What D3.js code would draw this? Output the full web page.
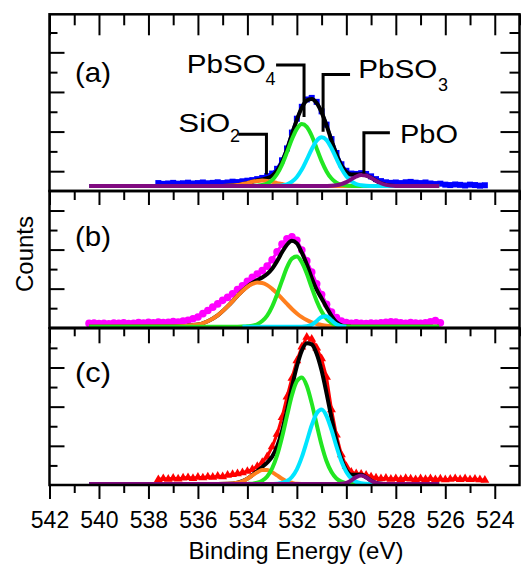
<!DOCTYPE html>
<html>
<head>
<meta charset="utf-8">
<script src="https://cdn.jsdelivr.net/npm/d3@7"></script>
<style>
    body { margin: 0; background: #fff; }
    text { font-family: "Liberation Sans", Arial, Helvetica, sans-serif; fill: #000; }
</style>
</head>
<body>
<div id="chart"></div>
<script>
// binding energy ticks (eV)
const energyLabels = [542, 540, 538, 536, 534, 532, 530, 528, 526, 524];
const energyMinor = [541, 539, 537, 535, 533, 531, 529, 527, 525, 523];

// counts ticks of each panel (arbitrary units)
const aMajor = [1, 3, 5, 7], aMinor = [2, 4, 6, 8];
const bMajor = [2, 4, 6], bMinor = [1, 3, 5];
const cMajor = [2, 4, 6], cMinor = [1, 3, 5, 7];

// energies of the fitted curves
const fitEnergy = [540.4, 537, 536, 535.6, 535.2, 534.8, 534.4, 534.2, 534.0, 533.8, 533.6, 533.4,
    533.2, 533.0, 532.8, 532.6, 532.4, 532.2, 532.0, 531.8, 531.6, 531.4, 531.2, 531.0, 530.8, 530.6,
    530.4, 530.2, 530.0, 529.8, 529.6, 529.4, 529.2, 529.0, 528.8, 528.6, 528.4, 528.0, 527.6, 527.0, 526.25];

// (a) measured counts, from 537.6 eV in 0.2 eV steps
const aStart = 537.6;
const aCounts = [0.40, 0.36, 0.38, 0.41, 0.37, 0.39, 0.42, 0.38, 0.40, 0.43, 0.39, 0.41, 0.44, 0.40,
    0.43, 0.47, 0.45, 0.49, 0.52, 0.55, 0.60, 0.66, 0.75, 0.88, 1.12, 1.55, 2.15, 2.95, 3.65, 4.25,
    4.62, 4.70, 4.50, 4.02, 3.35, 2.62, 1.92, 1.35, 1.02, 0.88, 0.86, 0.90, 0.86, 0.74, 0.60, 0.50,
    0.44, 0.41, 0.43, 0.40, 0.44, 0.46, 0.42, 0.40, 0.43, 0.38, 0.35, 0.37, 0.32, 0.30, 0.33, 0.31,
    0.28, 0.32, 0.30, 0.27, 0.29];
const aEnvelope = [0.25, 0.25, 0.25, 0.25, 0.25, 0.26, 0.30, 0.35, 0.40, 0.47, 0.53, 0.58, 0.65, 0.77,
    1.03, 1.47, 2.10, 2.86, 3.60, 4.21, 4.57, 4.65, 4.44, 3.97, 3.31, 2.56, 1.85, 1.29, 0.96, 0.835,
    0.83, 0.845, 0.79, 0.67, 0.52, 0.39, 0.31, 0.256, 0.25, 0.25, 0.25];
const aSiO2 = [0.25, 0.25, 0.25, 0.25, 0.25, 0.26, 0.30, 0.35, 0.40, 0.465, 0.51, 0.53, 0.51, 0.465,
    0.40, 0.35, 0.30, 0.276, 0.26, 0.253, 0.25, 0.25, 0.25, 0.25, 0.25, 0.25, 0.25, 0.25, 0.25, 0.25,
    0.25, 0.25, 0.25, 0.25, 0.25, 0.25, 0.25, 0.25, 0.25, 0.25, 0.25];
const aPbSO4 = [0.25, 0.25, 0.25, 0.25, 0.25, 0.25, 0.25, 0.25, 0.25, 0.255, 0.27, 0.30, 0.38, 0.55,
    0.86, 1.33, 1.95, 2.61, 3.14, 3.38, 3.24, 2.79, 2.15, 1.51, 0.99, 0.63, 0.42, 0.32, 0.275, 0.258,
    0.252, 0.25, 0.25, 0.25, 0.25, 0.25, 0.25, 0.25, 0.25, 0.25, 0.25];
const aPbSO3 = [0.25, 0.25, 0.25, 0.25, 0.25, 0.25, 0.25, 0.25, 0.25, 0.25, 0.25, 0.25, 0.25, 0.253,
    0.26, 0.284, 0.34, 0.47, 0.71, 1.08, 1.58, 2.11, 2.54, 2.71, 2.57, 2.16, 1.63, 1.13, 0.74, 0.49,
    0.35, 0.29, 0.26, 0.254, 0.251, 0.25, 0.25, 0.25, 0.25, 0.25, 0.25];
const aPbO = [0.25, 0.25, 0.25, 0.25, 0.25, 0.25, 0.25, 0.25, 0.25, 0.25, 0.25, 0.25, 0.25, 0.25,
    0.25, 0.25, 0.25, 0.25, 0.25, 0.25, 0.25, 0.25, 0.25, 0.25, 0.253, 0.262, 0.287, 0.344, 0.447, 0.59,
    0.73, 0.807, 0.78, 0.664, 0.515, 0.39, 0.31, 0.256, 0.25, 0.25, 0.25];

// (b) measured counts, from 540.4 eV in 0.2 eV steps
const bStart = 540.4;
const bCounts = [0.22, 0.24, 0.21, 0.23, 0.20, 0.24, 0.22, 0.25, 0.21, 0.23, 0.26, 0.24, 0.27, 0.25,
    0.29, 0.26, 0.28, 0.31, 0.29, 0.34, 0.38, 0.46, 0.55, 0.72, 0.88, 1.05, 1.22, 1.40, 1.55, 1.73,
    1.95, 2.15, 2.38, 2.58, 2.75, 2.92, 3.15, 3.48, 3.88, 4.28, 4.55, 4.65, 4.48, 3.98, 3.42, 2.85,
    2.25, 1.70, 1.20, 0.80, 0.52, 0.34, 0.26, 0.22, 0.25, 0.23, 0.21, 0.24, 0.22, 0.25, 0.27, 0.30,
    0.29, 0.25, 0.23, 0.26, 0.24, 0.22, 0.25, 0.30, 0.36, 0.25];
const bEnvelope = [0.05, 0.056, 0.16, 0.33, 0.63, 1.09, 1.63, 1.89, 2.11, 2.29, 2.44, 2.57, 2.75, 3.02,
    3.41, 3.86, 4.25, 4.45, 4.32, 3.84, 3.25, 2.55, 1.95, 1.50, 1.04, 0.61, 0.28, 0.12, 0.07, 0.055,
    0.05, 0.05, 0.05, 0.05, 0.05, 0.05, 0.05, 0.05, 0.05, 0.05, 0.05];
const bSiO2 = [0.05, 0.056, 0.16, 0.33, 0.63, 1.09, 1.63, 1.88, 2.09, 2.24, 2.31, 2.29, 2.18, 1.99,
    1.76, 1.49, 1.22, 0.96, 0.73, 0.54, 0.39, 0.27, 0.19, 0.14, 0.10, 0.08, 0.066, 0.058, 0.053, 0.05,
    0.05, 0.05, 0.05, 0.05, 0.05, 0.05, 0.05, 0.05, 0.05, 0.05, 0.05];
const bPbSO4 = [0.05, 0.05, 0.05, 0.05, 0.05, 0.05, 0.05, 0.056, 0.07, 0.10, 0.18, 0.34, 0.62, 1.08,
    1.70, 2.41, 3.09, 3.54, 3.64, 3.35, 2.77, 2.05, 1.37, 0.83, 0.46, 0.24, 0.13, 0.08, 0.06, 0.053,
    0.05, 0.05, 0.05, 0.05, 0.05, 0.05, 0.05, 0.05, 0.05, 0.05, 0.05];
const bPbSO3 = [null, null, null, null, null, null, null, 0.05, 0.05, 0.05, 0.05, 0.05, 0.05, 0.05,
    0.05, 0.05, 0.05, 0.05, 0.05, 0.05, 0.07, 0.15, 0.34, 0.55, 0.58, 0.38, 0.18, 0.08, 0.055, null,
    null, null, null, null, null, null, null, null, null, null, null];

// (c) measured counts, from 537.6 eV in 0.2 eV steps
const cStart = 537.6;
const cCounts = [0.28, 0.33, 0.30, 0.35, 0.31, 0.36, 0.38, 0.34, 0.40, 0.37, 0.42, 0.40, 0.45, 0.43,
    0.50, 0.54, 0.58, 0.63, 0.70, 0.80, 0.95, 1.15, 1.45, 1.95, 2.60, 3.45, 4.50, 5.45, 6.35, 7.05,
    7.55, 7.45, 7.00, 6.45, 5.50, 3.85, 2.55, 1.55, 0.95, 0.66, 0.58, 0.56, 0.50, 0.42, 0.36, 0.32,
    0.35, 0.30, 0.33, 0.29, 0.34, 0.31, 0.28, 0.32, 0.29, 0.33, 0.28, 0.31, 0.27, 0.30, 0.33, 0.29,
    0.32, 0.28, 0.30, 0.27, 0.25];
const cEnvelope = [0.05, 0.05, 0.05, 0.05, 0.05, 0.058, 0.115, 0.195, 0.327, 0.51, 0.715, 0.924, 1.145,
    1.45, 1.965, 2.76, 3.82, 5.0, 6.06, 6.86, 7.24, 7.18, 6.70, 5.84, 4.68, 3.42, 2.25, 1.34, 0.765,
    0.53, 0.52, 0.52, 0.40, 0.22, 0.104, 0.061, 0.05, 0.05, 0.05, 0.05, 0.05];
const cSiO2 = [0.05, 0.05, 0.05, 0.05, 0.05, 0.058, 0.114, 0.19, 0.32, 0.49, 0.65, 0.76, 0.76, 0.65,
    0.49, 0.32, 0.19, 0.114, 0.058, 0.05, 0.05, 0.05, 0.05, 0.05, 0.05, 0.05, 0.05, 0.05, 0.05, 0.05,
    0.05, 0.05, 0.05, 0.05, 0.05, 0.05, 0.05, 0.05, 0.05, 0.05, 0.05];
const cPbSO4 = [0.05, 0.05, 0.05, 0.05, 0.05, 0.05, 0.05, 0.05, 0.057, 0.07, 0.115, 0.22, 0.44, 0.85,
    1.51, 2.44, 3.53, 4.58, 5.30, 5.49, 5.07, 4.18, 3.09, 2.04, 1.21, 0.66, 0.33, 0.17, 0.09, 0.064,
    0.054, 0.05, 0.05, 0.05, 0.05, 0.05, 0.05, 0.05, 0.05, 0.05, 0.05];
const cPbSO3 = [0.05, 0.05, 0.05, 0.05, 0.05, 0.05, 0.05, 0.05, 0.05, 0.05, 0.05, 0.05, 0.05, 0.055,
    0.067, 0.104, 0.20, 0.41, 0.80, 1.42, 2.22, 3.05, 3.66, 3.85, 3.52, 2.81, 1.97, 1.21, 0.66, 0.33,
    0.16, 0.089, 0.062, 0.053, 0.05, 0.05, 0.05, 0.05, 0.05, 0.05, 0.05];
const cPbO = [0.05, 0.05, 0.05, 0.05, 0.05, 0.05, 0.05, 0.05, 0.05, 0.05, 0.05, 0.05, 0.05, 0.05,
    0.05, 0.05, 0.05, 0.05, 0.05, 0.05, 0.05, 0.05, 0.05, 0.05, 0.05, 0.05, 0.052, 0.063, 0.11, 0.235,
    0.40, 0.48, 0.39, 0.22, 0.104, 0.061, 0.05, 0.05, 0.05, 0.05, 0.05];

// peak labels of panel (a): text anchor, subscript anchor, leader line [E, counts]
const peakNames = ["PbSO", "PbSO", "SiO", "PbO"];
const peakSubs = ["4", "3", "2", ""];
const peakText = [[536.45, 5.94], [529.52, 5.69], [536.79, 2.99], [527.83, 2.44]];
const peakSub = [[533.27, 5.33], [526.29, 5.05], [534.70, 2.47], null];
const peakLeader = [
    [[532.84, 6.36], [531.71, 6.36], [531.71, 3.74]],
    [[529.85, 5.88], [530.94, 5.88], [530.94, 2.99]],
    [[534.37, 2.86], [533.23, 2.86], [533.23, 0.83]],
    [[528.24, 2.94], [529.29, 2.94], [529.29, 0.88]]
];

const dataStep = 0.2;
const colors = { env: "#000000", SiO2: "#ff7f1e", PbSO4: "#22e622", PbSO3: "#00e5ff", PbO: "#800a80" };

let width = 522, height = 564;
let left = 49.5, right = 519.5;

let svg = d3.select("#chart")
    .append("svg")
    .attr("width", width)
    .attr("height", height);

let x = d3.scaleLinear()
    .domain([542, 523])
    .range([left, right]);

let panels = [
    { label: "(a)", labelAt: [540.97, 5.5], top: 14.3, bottom: 191, yMax: 8.92, major: aMajor, minor: aMinor,
      topTicks: [21, 11], start: aStart, counts: aCounts, color: "#0000ff", symbol: d3.symbolSquare, size: 36,
      fits: [["env", aEnvelope], ["SiO2", aSiO2], ["PbSO4", aPbSO4], ["PbSO3", aPbSO3], ["PbO", aPbO]] },
    { label: "(b)", labelAt: [540.97, 4.19], top: 191, bottom: 327.7, yMax: 7, major: bMajor, minor: bMinor,
      topTicks: [14, 9], start: bStart, counts: bCounts, color: "#ff00ff", symbol: d3.symbolCircle, size: 46,
      fits: [["env", bEnvelope], ["SiO2", bSiO2], ["PbSO4", bPbSO4], ["PbSO3", bPbSO3]] },
    { label: "(c)", labelAt: [540.97, 5.26], top: 328.3, bottom: 485, yMax: 8, major: cMajor, minor: cMinor,
      topTicks: [15, 8], start: cStart, counts: cCounts, color: "#ff0000", symbol: d3.symbolTriangle, size: 34,
      fits: [["env", cEnvelope], ["SiO2", cSiO2], ["PbSO4", cPbSO4], ["PbSO3", cPbSO3], ["PbO", cPbO]] }
];

function styleAxis(g) {
    g.select(".domain").remove();
    g.selectAll(".tick line").attr("stroke", "#000").attr("stroke-width", 2);
}

panels.forEach(function (p, k) {
    let y = d3.scaleLinear()
        .domain([0, p.yMax])
        .range([p.bottom, p.top]);

    let g = svg.append("g");

    let line = d3.line()
        .defined(d => d[1] != null)
        .x(d => x(d[0]))
        .y(d => y(d[1]));

    // measured points
    let pts = p.counts.map((v, i) => [p.start - i * dataStep, v]);
    g.append("path")
        .attr("d", line(pts))
        .attr("fill", "none")
        .attr("stroke", p.color)
        .attr("stroke-width", 3);
    g.selectAll(".pt")
        .data(pts)
        .join("path")
        .attr("class", "pt")
        .attr("transform", d => `translate(${x(d[0])},${y(d[1])})`)
        .attr("d", d3.symbol().type(p.symbol).size(p.size))
        .attr("fill", p.color);

    // fitted envelope and components
    let smooth = line.curve(d3.curveMonotoneX);
    p.fits.forEach(function (f) {
        g.append("path")
            .attr("d", smooth(fitEnergy.map((e, i) => [e, f[1][i]])))
            .attr("fill", "none")
            .attr("stroke", colors[f[0]])
            .attr("stroke-width", 4)
            .attr("stroke-linejoin", "round");
    });

    // frame
    g.append("rect")
        .attr("x", left)
        .attr("y", p.top)
        .attr("width", right - left)
        .attr("height", p.bottom - p.top)
        .attr("fill", "none")
        .attr("stroke", "#000")
        .attr("stroke-width", 2.5);

    // ticks along the top edge
    g.append("g").attr("transform", `translate(0,${p.top})`)
        .call(d3.axisBottom(x).tickValues(energyLabels).tickSize(p.topTicks[0]).tickFormat(""))
        .call(styleAxis);
    g.append("g").attr("transform", `translate(0,${p.top})`)
        .call(d3.axisBottom(x).tickValues(energyMinor).tickSize(p.topTicks[1]).tickFormat(""))
        .call(styleAxis);

    // counts ticks on both sides
    g.append("g").attr("transform", `translate(${left},0)`)
        .call(d3.axisRight(y).tickValues(p.major).tickSize(15).tickFormat(""))
        .call(styleAxis);
    g.append("g").attr("transform", `translate(${left},0)`)
        .call(d3.axisRight(y).tickValues(p.minor).tickSize(8).tickFormat(""))
        .call(styleAxis);
    g.append("g").attr("transform", `translate(${right},0)`)
        .call(d3.axisLeft(y).tickValues(p.major).tickSize(19).tickFormat(""))
        .call(styleAxis);
    g.append("g").attr("transform", `translate(${right},0)`)
        .call(d3.axisLeft(y).tickValues(p.minor).tickSize(10).tickFormat(""))
        .call(styleAxis);

    g.append("text")
        .attr("x", x(p.labelAt[0]))
        .attr("y", y(p.labelAt[1]))
        .attr("font-size", 28)
        .attr("textLength", 36)
        .attr("lengthAdjust", "spacingAndGlyphs")
        .text(p.label);

    p.y = y;
});

// peak assignments in (a)
let ya = panels[0].y;
let textWidths = [79, 79, 52, 58];
peakNames.forEach(function (name, i) {
    svg.append("path")
        .attr("d", d3.line().x(d => x(d[0])).y(d => ya(d[1]))(peakLeader[i]))
        .attr("fill", "none")
        .attr("stroke", "#000")
        .attr("stroke-width", 3);
    svg.append("text")
        .attr("x", x(peakText[i][0]))
        .attr("y", ya(peakText[i][1]))
        .attr("font-size", 26)
        .attr("textLength", textWidths[i])
        .attr("lengthAdjust", "spacingAndGlyphs")
        .text(name);
    if (peakSub[i]) {
        svg.append("text")
            .attr("x", x(peakSub[i][0]))
            .attr("y", ya(peakSub[i][1]))
            .attr("font-size", 18)
            .text(peakSubs[i]);
    }
});

// bottom energy axis
let bottom = panels[2].bottom;
svg.append("g").attr("transform", `translate(0,${bottom})`)
    .call(d3.axisBottom(x).tickValues(energyLabels).tickSize(14).tickPadding(13).tickFormat(d => d))
    .call(styleAxis)
    .selectAll("text")
    .attr("font-size", 23)
    .attr("font-family", "Liberation Sans, Arial, sans-serif")
    .attr("fill", "#000");
svg.append("g").attr("transform", `translate(0,${bottom})`)
    .call(d3.axisBottom(x).tickValues(energyMinor.filter(d => d > 523)).tickSize(8).tickFormat(""))
    .call(styleAxis);

svg.append("text")
    .attr("x", 296)
    .attr("y", 559)
    .attr("text-anchor", "middle")
    .attr("font-size", 24)
    .text("Binding Energy (eV)");

svg.append("text")
    .attr("transform", "translate(33,254) rotate(-90)")
    .attr("text-anchor", "middle")
    .attr("font-size", 24)
    .text("Counts");
</script>
</body>
</html>
